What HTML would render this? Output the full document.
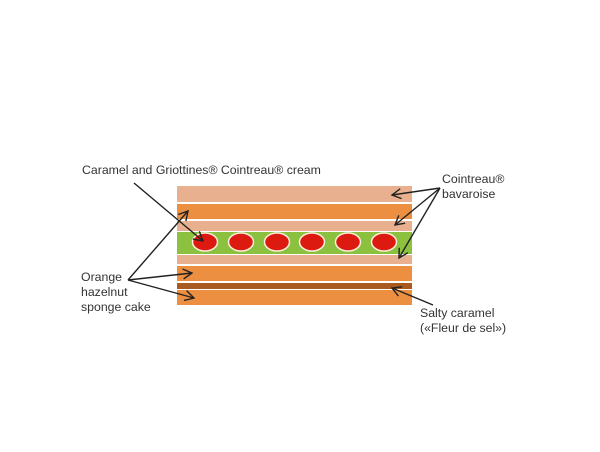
<!DOCTYPE html>
<html><head><style>
html,body{margin:0;padding:0;background:#fff;}
body{width:600px;height:452px;position:relative;overflow:hidden;font-family:"Liberation Sans",sans-serif;color:#333;}
.t{position:absolute;font-size:12.3px;line-height:15px;white-space:nowrap;}
</style></head><body>
<svg width="600" height="452" style="position:absolute;left:0;top:0">
<defs><marker id="a" markerWidth="12" markerHeight="12" refX="10" refY="6" orient="auto" markerUnits="userSpaceOnUse"><path d="M1,1 L10,6 L1,11" fill="none" stroke="#222" stroke-width="1.4"/></marker></defs>
<rect x="177" y="186" width="235" height="16" fill="#e8b08e"/>
<rect x="177" y="204" width="235" height="15" fill="#ec8f40"/>
<rect x="177" y="221" width="235" height="10" fill="#e8b08e"/>
<rect x="177" y="232" width="235" height="22" fill="#8cc140"/>
<rect x="177" y="255" width="235" height="9" fill="#e8b08e"/>
<rect x="177" y="266" width="235" height="15" fill="#ec8f40"/>
<rect x="177" y="283" width="235" height="6" fill="#a85a20"/>
<rect x="177" y="290" width="235" height="15" fill="#ec8f40"/>
<g fill="#dd1a10" stroke="#fbeedd" stroke-width="1.5">
<ellipse cx="205" cy="242" rx="12.5" ry="9"/><ellipse cx="241" cy="242" rx="12.5" ry="9"/>
<ellipse cx="277" cy="242" rx="12.5" ry="9"/><ellipse cx="312" cy="242" rx="12.5" ry="9"/>
<ellipse cx="348" cy="242" rx="12.5" ry="9"/><ellipse cx="384" cy="242" rx="12.5" ry="9"/>
</g>
<g stroke="#222" stroke-width="1.4" fill="none" marker-end="url(#a)">
<line x1="134" y1="183" x2="203" y2="241"/>
<line x1="128" y1="280" x2="188" y2="211"/>
<line x1="128" y1="280" x2="192" y2="273"/>
<line x1="128" y1="280" x2="194" y2="298"/>
<line x1="440" y1="188" x2="392" y2="195"/>
<line x1="440" y1="188" x2="395" y2="225"/>
<line x1="440" y1="188" x2="399" y2="258"/>
<line x1="433" y1="305" x2="392" y2="288"/>
</g>
</svg>
<div class="t" style="left:82px;top:163px;">Caramel and Griottines® Cointreau® cream</div>
<div class="t" style="left:442px;top:172px;">Cointreau®<br>bavaroise</div>
<div class="t" style="left:81px;top:270px;">Orange<br>hazelnut<br>sponge cake</div>
<div class="t" style="left:420px;top:306px;">Salty caramel<br>(«Fleur de sel»)</div>
</body></html>
